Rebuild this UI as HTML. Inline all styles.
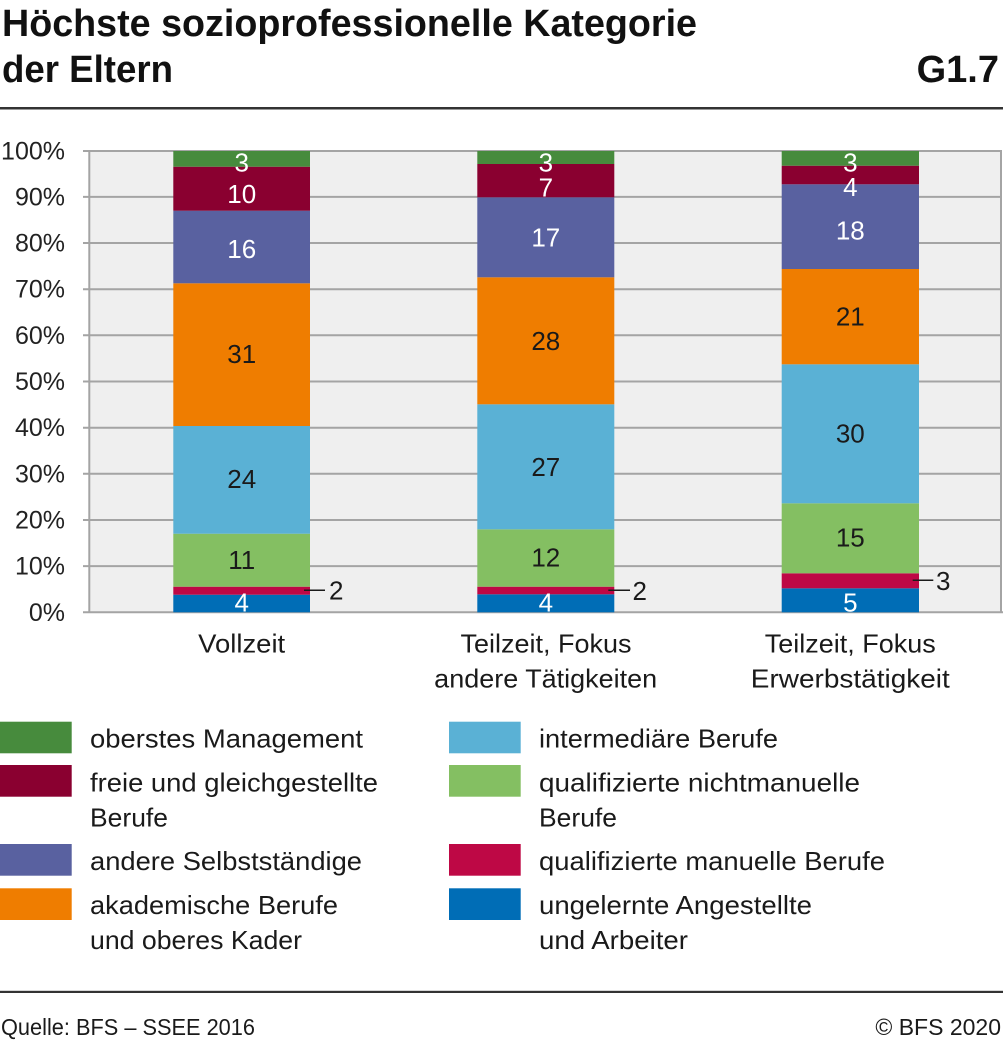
<!DOCTYPE html>
<html>
<head>
<meta charset="utf-8">
<style>
  html, body { margin: 0; padding: 0; background: #ffffff; }
  svg { display: block; }
  text { font-family: "Liberation Sans", "DejaVu Sans", sans-serif; }
</style>
</head>
<body>
<svg width="1003" height="1040" viewBox="0 0 1003 1040" xmlns="http://www.w3.org/2000/svg">
  <!-- Title -->
  <text x="2" y="36" font-size="38" font-weight="bold" fill="#111" textLength="695" lengthAdjust="spacingAndGlyphs">Höchste sozioprofessionelle Kategorie</text>
  <text x="2" y="82" font-size="38" font-weight="bold" fill="#111" textLength="171" lengthAdjust="spacingAndGlyphs">der Eltern</text>
  <text x="999" y="82" font-size="38" font-weight="bold" fill="#111" text-anchor="end">G1.7</text>
  <rect x="0" y="107" width="1003" height="2.5" fill="#333"/>

  <!-- Plot background -->
  <rect x="89" y="151" width="912" height="461.3" fill="#efefef"/>

  <!-- Gridlines -->
  <g stroke="#a4a4a4" stroke-width="2" fill="none">
    <line x1="83" y1="612.3" x2="1003" y2="612.3"/>
    <line x1="83" y1="566.1" x2="1001" y2="566.1"/>
    <line x1="83" y1="520" x2="1001" y2="520"/>
    <line x1="83" y1="473.8" x2="1001" y2="473.8"/>
    <line x1="83" y1="427.7" x2="1001" y2="427.7"/>
    <line x1="83" y1="381.5" x2="1001" y2="381.5"/>
    <line x1="83" y1="335.3" x2="1001" y2="335.3"/>
    <line x1="83" y1="289.2" x2="1001" y2="289.2"/>
    <line x1="83" y1="243" x2="1001" y2="243"/>
    <line x1="83" y1="196.9" x2="1001" y2="196.9"/>
    <line x1="83" y1="151" x2="1002" y2="151"/>
    <line x1="89.3" y1="150" x2="89.3" y2="613"/>
    <line x1="1001" y1="150" x2="1001" y2="613"/>
  </g>

  <!-- Y tick labels -->
  <g font-size="25" fill="#222" text-anchor="end">
    <text x="65" y="620.8">0%</text>
    <text x="65" y="574.6">10%</text>
    <text x="65" y="528.5">20%</text>
    <text x="65" y="482.3">30%</text>
    <text x="65" y="436.2">40%</text>
    <text x="65" y="390">50%</text>
    <text x="65" y="343.8">60%</text>
    <text x="65" y="297.7">70%</text>
    <text x="65" y="251.5">80%</text>
    <text x="65" y="205.4">90%</text>
    <text x="65" y="159.3">100%</text>
  </g>

  <!-- Bar 1: Vollzeit -->
  <g>
    <rect x="173.3" y="594.7" width="136.7" height="17.6" fill="#006db6"/>
    <rect x="173.3" y="586.7" width="136.7" height="8" fill="#be0845"/>
    <rect x="173.3" y="533.7" width="136.7" height="53" fill="#84bf62"/>
    <rect x="173.3" y="426" width="136.7" height="107.7" fill="#5ab1d5"/>
    <rect x="173.3" y="283.3" width="136.7" height="142.7" fill="#ef7d00"/>
    <rect x="173.3" y="210.7" width="136.7" height="72.6" fill="#5961a0"/>
    <rect x="173.3" y="166.7" width="136.7" height="44" fill="#8a0030"/>
    <rect x="173.3" y="151" width="136.7" height="15.7" fill="#478b3d"/>
  </g>
  <!-- Bar 2 -->
  <g>
    <rect x="477.3" y="594.3" width="137" height="18" fill="#006db6"/>
    <rect x="477.3" y="586.7" width="137" height="7.6" fill="#be0845"/>
    <rect x="477.3" y="529.3" width="137" height="57.4" fill="#84bf62"/>
    <rect x="477.3" y="404.3" width="137" height="125" fill="#5ab1d5"/>
    <rect x="477.3" y="277.3" width="137" height="127" fill="#ef7d00"/>
    <rect x="477.3" y="197.3" width="137" height="80" fill="#5961a0"/>
    <rect x="477.3" y="164" width="137" height="33.3" fill="#8a0030"/>
    <rect x="477.3" y="151" width="137" height="13" fill="#478b3d"/>
  </g>
  <!-- Bar 3 -->
  <g>
    <rect x="781.7" y="588.3" width="137.3" height="24" fill="#006db6"/>
    <rect x="781.7" y="573.3" width="137.3" height="15" fill="#be0845"/>
    <rect x="781.7" y="503.3" width="137.3" height="70" fill="#84bf62"/>
    <rect x="781.7" y="364.3" width="137.3" height="139" fill="#5ab1d5"/>
    <rect x="781.7" y="269" width="137.3" height="95.3" fill="#ef7d00"/>
    <rect x="781.7" y="184.3" width="137.3" height="84.7" fill="#5961a0"/>
    <rect x="781.7" y="165.7" width="137.3" height="18.6" fill="#8a0030"/>
    <rect x="781.7" y="151" width="137.3" height="14.7" fill="#478b3d"/>
  </g>

  <!-- Data labels -->
  <g font-size="26" text-anchor="middle">
    <!-- bar 1 -->
    <text x="241.7" y="171.5" fill="#fff">3</text>
    <text x="241.7" y="203" fill="#fff">10</text>
    <text x="241.7" y="258" fill="#fff">16</text>
    <text x="241.7" y="363" fill="#1a1a1a">31</text>
    <text x="241.7" y="488" fill="#1a1a1a">24</text>
    <text x="241.7" y="569" fill="#1a1a1a">11</text>
    <text x="241.7" y="611.5" fill="#fff">4</text>
    <!-- bar 2 -->
    <text x="545.8" y="171.7" fill="#fff">3</text>
    <text x="545.8" y="196.7" fill="#fff">7</text>
    <text x="545.8" y="246.7" fill="#fff">17</text>
    <text x="545.8" y="350" fill="#1a1a1a">28</text>
    <text x="545.8" y="476" fill="#1a1a1a">27</text>
    <text x="545.8" y="566.7" fill="#1a1a1a">12</text>
    <text x="545.8" y="611.5" fill="#fff">4</text>
    <!-- bar 3 -->
    <text x="850.3" y="171.7" fill="#fff">3</text>
    <text x="850.3" y="196" fill="#fff">4</text>
    <text x="850.3" y="239.3" fill="#fff">18</text>
    <text x="850.3" y="325.7" fill="#1a1a1a">21</text>
    <text x="850.3" y="442.7" fill="#1a1a1a">30</text>
    <text x="850.3" y="546.7" fill="#1a1a1a">15</text>
    <text x="850.3" y="611.5" fill="#fff">5</text>
  </g>
  <!-- outside labels with leader lines -->
  <g stroke="#1a1a1a" stroke-width="1.5">
    <line x1="304" y1="590.3" x2="325" y2="590.3"/>
    <line x1="608.3" y1="590.3" x2="630" y2="590.3"/>
    <line x1="912.7" y1="580.3" x2="933.3" y2="580.3"/>
  </g>
  <g font-size="26" fill="#1a1a1a">
    <text x="329" y="599.5">2</text>
    <text x="632.5" y="599.8">2</text>
    <text x="936" y="589.8">3</text>
  </g>

  <!-- X labels -->
  <g font-size="26" fill="#1a1a1a" text-anchor="middle">
    <text x="241.7" y="652.7" textLength="87" lengthAdjust="spacingAndGlyphs">Vollzeit</text>
    <text x="546" y="652.7" textLength="171" lengthAdjust="spacingAndGlyphs">Teilzeit, Fokus</text>
    <text x="545.7" y="687.7" textLength="223" lengthAdjust="spacingAndGlyphs">andere Tätigkeiten</text>
    <text x="850.3" y="652.7" textLength="171" lengthAdjust="spacingAndGlyphs">Teilzeit, Fokus</text>
    <text x="850.3" y="687.7" textLength="199" lengthAdjust="spacingAndGlyphs">Erwerbstätigkeit</text>
  </g>

  <!-- Legend swatches -->
  <rect x="0" y="721.7" width="71.7" height="31.6" fill="#478b3d"/>
  <rect x="0" y="765" width="71.7" height="31.7" fill="#8a0030"/>
  <rect x="0" y="844" width="71.7" height="31.7" fill="#5961a0"/>
  <rect x="0" y="888.3" width="71.7" height="31.7" fill="#ef7d00"/>
  <rect x="449" y="721.7" width="71.7" height="31.6" fill="#5ab1d5"/>
  <rect x="449" y="765" width="71.7" height="31.7" fill="#84bf62"/>
  <rect x="449" y="844" width="71.7" height="31.7" fill="#be0845"/>
  <rect x="449" y="888.3" width="71.7" height="31.7" fill="#006db6"/>

  <!-- Legend text -->
  <g font-size="26" fill="#1a1a1a">
    <text x="90" y="747.3" textLength="273" lengthAdjust="spacingAndGlyphs">oberstes Management</text>
    <text x="90" y="791.7" textLength="288" lengthAdjust="spacingAndGlyphs">freie und gleichgestellte</text>
    <text x="90" y="826.7" textLength="78" lengthAdjust="spacingAndGlyphs">Berufe</text>
    <text x="90" y="870" textLength="272" lengthAdjust="spacingAndGlyphs">andere Selbstständige</text>
    <text x="90" y="914" textLength="248" lengthAdjust="spacingAndGlyphs">akademische Berufe</text>
    <text x="90" y="949" textLength="212" lengthAdjust="spacingAndGlyphs">und oberes Kader</text>

    <text x="539" y="747.3" textLength="239" lengthAdjust="spacingAndGlyphs">intermediäre Berufe</text>
    <text x="539" y="791.7" textLength="321" lengthAdjust="spacingAndGlyphs">qualifizierte nichtmanuelle</text>
    <text x="539" y="826.7" textLength="78" lengthAdjust="spacingAndGlyphs">Berufe</text>
    <text x="539" y="870" textLength="346" lengthAdjust="spacingAndGlyphs">qualifizierte manuelle Berufe</text>
    <text x="539" y="914" textLength="273" lengthAdjust="spacingAndGlyphs">ungelernte Angestellte</text>
    <text x="539" y="949" textLength="149" lengthAdjust="spacingAndGlyphs">und Arbeiter</text>
  </g>

  <!-- Footer -->
  <rect x="0" y="990.8" width="1003" height="2.2" fill="#333"/>
  <text x="1" y="1035" font-size="23" fill="#1a1a1a" textLength="254" lengthAdjust="spacingAndGlyphs">Quelle: BFS – SSEE 2016</text>
  <text x="1001" y="1035" font-size="23" fill="#1a1a1a" text-anchor="end">© BFS 2020</text>
</svg>
</body>
</html>
